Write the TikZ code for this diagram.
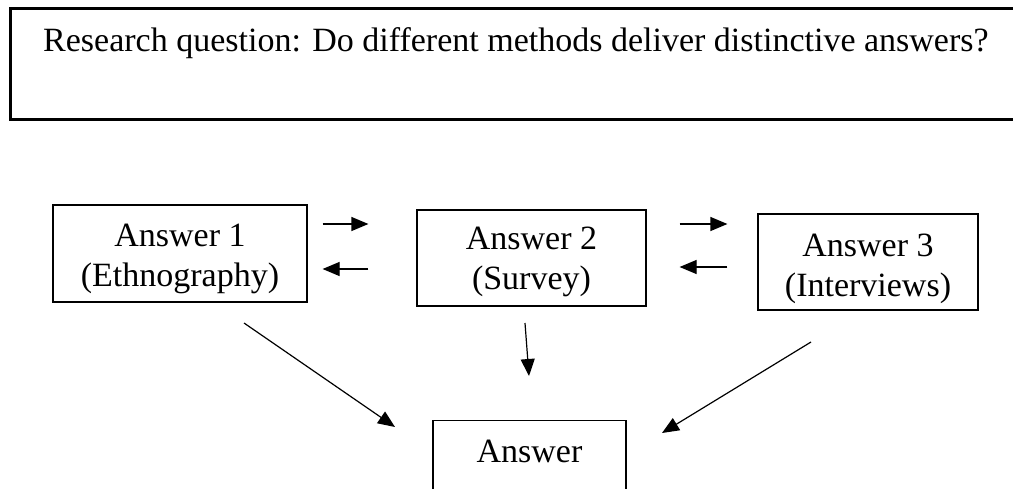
\documentclass[tikz,border=0pt]{standalone}
\usepackage{fontspec}
\setmainfont{Liberation Serif}
\usetikzlibrary{arrows.meta}
\begin{document}
\begin{tikzpicture}[x=1pt,y=-1pt,
  box/.style={draw, line width=1.2pt, rectangle, inner sep=0pt},
  txt/.style={font=\fontsize{34}{40}\selectfont, align=center, inner sep=0pt},
  arr/.style={line width=1.2pt, -{Triangle[length=17pt,width=14pt]}}]
\clip (0,0) rectangle (1013,488);
\fill[white] (0,0) rectangle (1013,488);
% research question box
\node[draw, line width=3pt, minimum width=1040pt, minimum height=111pt, anchor=north west, inner sep=0pt, outer sep=0pt] (rq) at (10,8) {};
\node[txt, anchor=base west] (rqt) at (43,51) {Research question: Do different methods deliver distinctive answers?};
% answer boxes
\node[box, minimum width=254pt, minimum height=97pt] (a1) at (180,253.5) {};
\node[txt, yshift=-5.5pt] (a1t) at (a1) {Answer 1\\(Ethnography)};
\node[box, minimum width=229pt, minimum height=96pt] (a2) at (531.5,258) {};
\node[txt, yshift=-4pt] (a2t) at (a2) {Answer 2\\(Survey)};
\node[box, minimum width=220pt, minimum height=96pt] (a3) at (868,262) {};
\node[txt, yshift=-7pt] (a3t) at (a3) {Answer 3\\(Interviews)};
\node[box, minimum width=193pt, minimum height=90pt, anchor=north] (ans) at (529.5,420) {};
\node[txt, anchor=base] (anst) at (529.5,462) {Answer};
% horizontal arrows
\coordinate (h1) at (0,224);
\coordinate (h2) at (0,269);
\coordinate (h3) at (0,267);
\draw[arr, shorten <=15pt, shorten >=48pt] (a1.east |- h1) -- (a2.west |- h1);
\draw[arr, shorten <=48pt, shorten >=15pt] (a2.west |- h2) -- (a1.east |- h2);
\draw[arr, shorten <=33pt, shorten >=30pt] (a2.east |- h1) -- (a3.west |- h1);
\draw[arr, shorten <=30pt, shorten >=33pt] (a3.west |- h3) -- (a2.east |- h3);
% arrows to the answer
\coordinate (d1a) at (244,323); \coordinate (d1b) at (395,427);
\coordinate (d2a) at (525,323); \coordinate (d2b) at (529,376);
\coordinate (d3a) at (811,342); \coordinate (d3b) at (662,433);
\draw[arr] (d1a) -- (d1b);
\draw[arr] (d2a) -- (d2b);
\draw[arr] (d3a) -- (d3b);
\end{tikzpicture}
\end{document}
